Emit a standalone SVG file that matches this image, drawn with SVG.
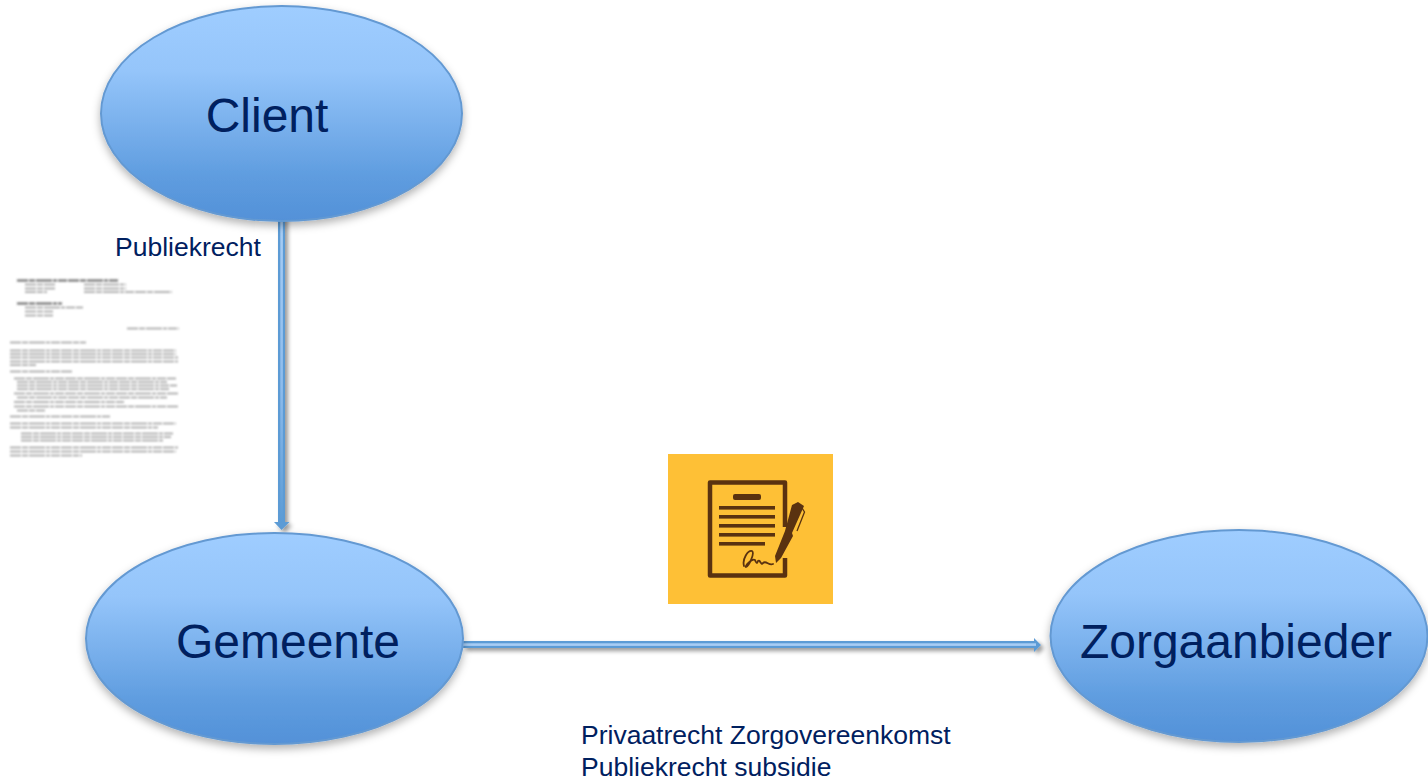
<svg xmlns="http://www.w3.org/2000/svg" width="1428" height="782" viewBox="0 0 1428 782">
<style>
.n{stroke:#6499d2;stroke-width:2;fill:url(#g);filter:url(#s)}
.t{font-family:"Liberation Sans",Arial,sans-serif;fill:#00205f}
.big{font-size:48px;text-anchor:middle}
.sm{font-size:26.500px}
.dk{fill:#5a3210}
.dl{stroke:#5a3210;fill:none}
.ar{fill:#5b9bd5}
.tx{fill:none;stroke:#9a9a9a;stroke-width:1.700;stroke-dasharray:11 1 6 1 16 1 4 1 9 1}
.th{fill:none;stroke:#666;stroke-width:2;stroke-dasharray:11 1 6 1 16 1 4 1 9 1}
</style>
<defs>
<linearGradient id="g" x1="0" y1="0" x2="0" y2="1">
<stop offset="0" stop-color="#9fcdff"/><stop offset=".3" stop-color="#95c5fa"/><stop offset=".8" stop-color="#5e9cdf"/><stop offset="1" stop-color="#5391d8"/>
</linearGradient>
<linearGradient id="v" gradientUnits="userSpaceOnUse" x1="0" y1="222" x2="0" y2="522">
<stop offset="0" stop-color="#a8cdf4"/><stop offset=".55" stop-color="#8ebcec"/><stop offset="1" stop-color="#5b9bd5"/>
</linearGradient>
<filter id="s" x="-10%" y="-10%" width="120%" height="125%"><feDropShadow dx="0" dy="4" stdDeviation="4" flood-color="#000" flood-opacity=".3"/></filter>
<filter id="c" x="-30%" y="-30%" width="160%" height="160%"><feDropShadow dx="3" dy="3" stdDeviation="2" flood-color="#000" flood-opacity=".4"/></filter>
<filter id="b" x="-5%" y="-5%" width="110%" height="110%"><feGaussianBlur stdDeviation=".8"/></filter>
</defs>
<g id="connectors">
<g filter="url(#c)">
<path class="ar" d="M278 215H285V522H289.500L281.500 530L274 522H278Z"/>
<path class="ar" d="M463 641H1034V638L1041 645L1034 652V648H463Z"/>
</g>
<rect x="280.300" y="215" width="2.600" height="307" fill="url(#v)"/>
<rect x="463" y="643.300" width="573" height="2.600" fill="#a8cdf4"/>
</g>
<g id="client"><ellipse class="n" cx="281.500" cy="113.500" rx="180.500" ry="107.500"/><text class="t big" x="267" y="132">Client</text></g>
<g id="gemeente"><ellipse class="n" cx="274.500" cy="638.500" rx="188.500" ry="105.500"/><text class="t big" x="288" y="658">Gemeente</text></g>
<g id="zorgaanbieder"><ellipse class="n" cx="1239" cy="636" rx="188.500" ry="106"/><text class="t big" x="1236" y="658">Zorgaanbieder</text></g>
<g id="labels">
<text class="t sm" x="115" y="256">Publiekrecht</text>
<text class="t sm" x="581" y="744">Privaatrecht Zorgovereenkomst</text>
<text class="t sm" x="581" y="776">Publiekrecht subsidie</text>
</g>
<g id="document" filter="url(#b)">
<path class="th" d="M17 280.500H119M17 303.500H62"/>
<path class="tx" d="M25 284.500H55M84 284.500H126M25 288.500H55M84 288.500H126M25 292H47M84 292H172M25 307.500H83M25 311.500H53M25 315.500H53M127 328.500H179M10 342.500H86M10 350.500H176M10 354H176M10 357.500H178M10 361.500H178M10 365H36M10 371.500H72M14 378.500H176M17 382H167M17 385.500H177M17 389H169M14 393.500H179M17 397.500H167M14 402H124M14 406.500H179M17 410.500H45M10 416.500H110M10 423.500H176M10 427.500H158M21 433.500H173M21 437H171M21 440.500H163M10 447.500H178M10 451.500H176M10 455.500H82"/>
</g>
<g id="icon">
<rect x="668" y="454" width="165" height="150" fill="#fec036"/>
<path class="dl" stroke-width="4.500" stroke-linejoin="round" d="M785 527V482.500H710V575.500H785V558"/>
<rect class="dk" x="733" y="494" width="28" height="6" rx="2"/>
<rect class="dk" x="719" y="506" width="56" height="3.600"/><rect class="dk" x="719" y="515" width="56" height="3.600"/><rect class="dk" x="719" y="524" width="56" height="3.600"/><rect class="dk" x="719" y="533" width="56" height="3.600"/><rect class="dk" x="719" y="542" width="46" height="3.600"/>
<path class="dk" d="M792 505L798 502L804 506L792 533L793 536L781 558L776 563L775 556L785 531Z"/>
<path class="dl" stroke-width="1.300" d="M802 508L804.500 512L797 531"/>
<path class="dl" stroke-width="1.800" stroke-linecap="round" d="M744 566C742 559 748 550 752 551C755 553 749 566 746 567C744 567 752 558 755 560C756 563 757 564 758 561C760 559 761 566 763 563C766 560 769 566 773 564"/>
</g>
</svg>
